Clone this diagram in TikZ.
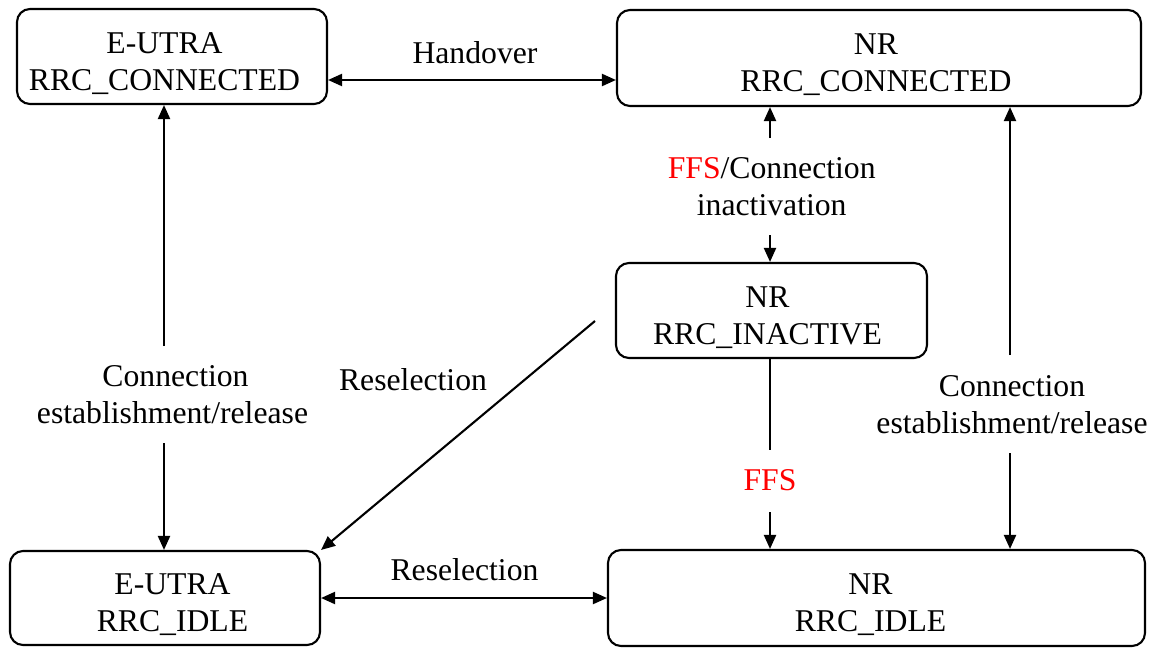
\documentclass[tikz,border=0pt]{standalone}
\usepackage{fontspec}
\setmainfont{Liberation Serif}
\usetikzlibrary{arrows.meta}
\begin{document}
\begin{tikzpicture}[x=1pt,y=-1pt,
  state/.style={draw,line width=2.1pt,rounded corners=13pt,inner sep=0pt,align=center,
    font=\fontsize{31.7}{37}\selectfont,execute at begin node={\rule{0pt}{72pt}}},
  txshift/.style={execute at end node={\hspace*{#1}}},
  lab/.style={inner sep=0pt,align=center,font=\fontsize{31.7}{37}\selectfont},
  conn/.style={line width=2.1pt},
  tip/.style={conn,-{Triangle[length=14pt,width=12pt]}},
  dtip/.style={conn,{Triangle[length=14pt,width=12pt]}-{Triangle[length=14pt,width=12pt]}}]
\useasboundingbox (0,0) rectangle (1155,648);
% states
\node[state,txshift=15pt,minimum width=310pt,minimum height=95pt] (ecc) at (172,56.5) {E-UTRA\\RRC\_CONNECTED};
\node[state,txshift=6pt,minimum width=524pt,minimum height=96pt] (ncc) at (879,58) {NR\\RRC\_CONNECTED};
\node[state,txshift=8pt,minimum width=311pt,minimum height=95pt] (nin) at (771.5,310.5) {NR\\RRC\_INACTIVE};
\node[state,txshift=-15pt,minimum width=310pt,minimum height=94pt] (eid) at (165,598) {E-UTRA\\RRC\_IDLE};
\node[state,txshift=12pt,minimum width=537pt,minimum height=96pt] (nid) at (876.5,598) {NR\\RRC\_IDLE};
% labels
\node[lab] (lho) at (475,53) {Handover};
\node[lab] (lce1) at (172.5,395) {\hspace*{6pt}Connection\\establishment/release};
\node[lab] (lce2) at (1012,405) {Connection\\establishment/release};
\node[lab] (lin) at (771.7,186.5) {\textcolor{red}{FFS}/Connection\\inactivation};
\node[lab] (lrs1) at (413,380) {Reselection};
\node[lab] (lffs) at (770,480) {\textcolor{red}{FFS}};
\node[lab] (lrs2) at (464.5,570) {Reselection};
% break points of connectors
\coordinate (l1) at (164,346);
\coordinate (l2) at (164,443);
\coordinate (m1) at (770,138);
\coordinate (m2) at (770,235);
\coordinate (r1) at (1010,355);
\coordinate (r2) at (1010,453);
\coordinate (f1) at (770,450);
\coordinate (f2) at (770,512);
\coordinate (d1) at (595,321);
\coordinate (h1) at (0,80);
% connectors
\draw[dtip] (ecc.east |- h1) -- (ncc.west |- h1);
\draw[dtip] (eid.east) -- (nid.west);
\draw[tip] (l1) -- (ecc.south -| l1);
\draw[tip] (l2) -- (eid.north -| l2);
\draw[tip] (m1) -- (ncc.south -| m1);
\draw[tip] (m2) -- (nin.north -| m2);
\draw[tip] (r1) -- (ncc.south -| r1);
\draw[tip] (r2) -- (nid.north -| r2);
\draw[conn] (nin.south -| f1) -- (f1);
\draw[tip] (f2) -- (nid.north -| f2);
\draw[tip] (d1) -- (eid.north east);
\end{tikzpicture}
\end{document}
